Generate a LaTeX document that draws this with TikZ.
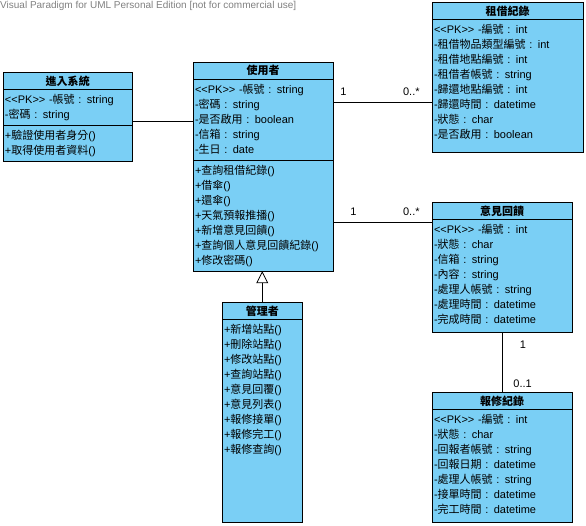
\documentclass[tikz,border=0pt]{standalone}
\usepackage{fontspec}
\setmainfont{Liberation Sans}
\newfontfamily\cjk{Noto Sans CJK TC}
\usepackage{xcolor}
\usetikzlibrary{arrows.meta,positioning}
\definecolor{umlblue}{RGB}{122,207,245}
\newcommand{\pk}{<\kern0pt<PK>\kern0pt> }
\tikzset{
  cls/.style={draw, line width=0.8pt, fill=umlblue, inner xsep=2pt, outer sep=0pt},
  clsname/.style={cls, font=\cjk\bfseries\fontsize{11}{13}\selectfont, align=center, minimum height=17pt},
  compart/.style={cls, font=\fontsize{11}{15}\selectfont, align=left, inner ysep=0pt, text height=14pt},
  mult/.style={font=\fontsize{11}{13}\selectfont, inner sep=1pt},
  line/.style={line width=0.8pt}
}
\begin{document}
\begin{tikzpicture}[x=1pt, y=-1pt]
  \useasboundingbox (0,0) rectangle (586,526);
  \node[anchor=north west, inner sep=0pt, text=gray, font=\fontsize{10}{11}\selectfont] (mark) at (0,1.5) {Visual Paradigm for UML Personal Edition [not for commercial use]};

  % login
  \node[clsname, text width=125.5pt, anchor=north west] (login-name) at (3,72.5) {進入系統};
  \node[compart, text width=125.5pt, text depth=22pt, below=0pt of login-name] (login-attr)
    {\pk -{\cjk 帳號} : string\\ -{\cjk 密碼} : string};
  \node[compart, text width=125.5pt, text depth=22pt, below=0pt of login-attr] (login-meth)
    {+{\cjk 驗證使用者身分}()\\ +{\cjk 取得使用者資料}()};

  % user
  \node[clsname, text width=136pt, anchor=north west] (user-name) at (193,62) {使用者};
  \node[compart, text width=136pt, text depth=67pt, below=0pt of user-name] (user-attr)
    {\pk -{\cjk 帳號} : string\\ -{\cjk 密碼} : string\\ -{\cjk 是否啟用} : boolean\\ -{\cjk 信箱} : string\\ -{\cjk 生日} : date};
  \node[compart, text width=136pt, text depth=97pt, below=0pt of user-attr] (user-meth)
    {+{\cjk 查詢租借紀錄}()\\ +{\cjk 借傘}()\\ +{\cjk 還傘}()\\ +{\cjk 天氣預報推播}()\\ +{\cjk 新增意見回饋}()\\ +{\cjk 查詢個人意見回饋紀錄}()\\ +{\cjk 修改密碼}()};

  % admin
  \node[clsname, text width=76.5pt, anchor=north west] (admin-name) at (222,302.5) {管理者};
  \node[compart, text width=76.5pt, text depth=189pt, below=0pt of admin-name] (admin-meth)
    {+{\cjk 新增站點}()\\ +{\cjk 刪除站點}()\\ +{\cjk 修改站點}()\\ +{\cjk 查詢站點}()\\ +{\cjk 意見回覆}()\\ +{\cjk 意見列表}()\\ +{\cjk 報修接單}()\\ +{\cjk 報修完工}()\\ +{\cjk 報修查詢}()};

  % rental records
  \node[clsname, text width=147pt, anchor=north west] (rent-name) at (432,2.5) {租借紀錄};
  \node[compart, text width=147pt, text depth=119pt, below=0pt of rent-name] (rent-attr)
    {\pk -{\cjk 編號} : int\\ -{\cjk 租借物品類型編號} : int\\ -{\cjk 租借地點編號} : int\\ -{\cjk 租借者帳號} : string\\ -{\cjk 歸還地點編號} : int\\ -{\cjk 歸還時間} : datetime\\ -{\cjk 狀態} : char\\ -{\cjk 是否啟用} : boolean};

  % feedback
  \node[clsname, text width=136pt, anchor=north west] (fb-name) at (432,202.5) {意見回饋};
  \node[compart, text width=136pt, text depth=99pt, below=0pt of fb-name] (fb-attr)
    {\pk -{\cjk 編號} : int\\ -{\cjk 狀態} : char\\ -{\cjk 信箱} : string\\ -{\cjk 內容} : string\\ -{\cjk 處理人帳號} : string\\ -{\cjk 處理時間} : datetime\\ -{\cjk 完成時間} : datetime};

  % repair records
  \node[clsname, text width=136pt, anchor=north west] (rep-name) at (432,392.5) {報修紀錄};
  \node[compart, text width=136pt, text depth=99pt, below=0pt of rep-name] (rep-attr)
    {\pk -{\cjk 編號} : int\\ -{\cjk 狀態} : char\\ -{\cjk 回報者帳號} : string\\ -{\cjk 回報日期} : datetime\\ -{\cjk 處理人帳號} : string\\ -{\cjk 接單時間} : datetime\\ -{\cjk 完工時間} : datetime};

  % connectors
  \draw[line] ([yshift=4pt]login-attr.south east) -- ([yshift=4pt]login-attr.south east -| user-attr.west);
  \draw[line] ([yshift=17.5pt]user-attr.east) -- ([yshift=17.5pt]user-attr.east -| rent-attr.west)
    node[mult, pos=0, above right=5pt and 6pt] {1}
    node[mult, pos=1, above left=5pt and 11pt] {0..*};
  \draw[line] ([yshift=-6.5pt]user-meth.east) -- ([yshift=-6.5pt]user-meth.east -| fb-name.west)
    node[mult, pos=0, above right=5pt and 16pt] {1}
    node[mult, pos=1, above left=5pt and 11pt] {0..*};
  \draw[line] (fb-attr.south) -- (rep-name.north)
    node[mult, pos=0, below right=6.5pt and 16.5pt] {1}
    node[mult, pos=1, above right=3pt and 10pt] {0..1};
  \draw[line, -{Triangle[open, length=12pt, width=12pt]}] (admin-name.north) -- (admin-name.north |- user-meth.south);
\end{tikzpicture}
\end{document}
